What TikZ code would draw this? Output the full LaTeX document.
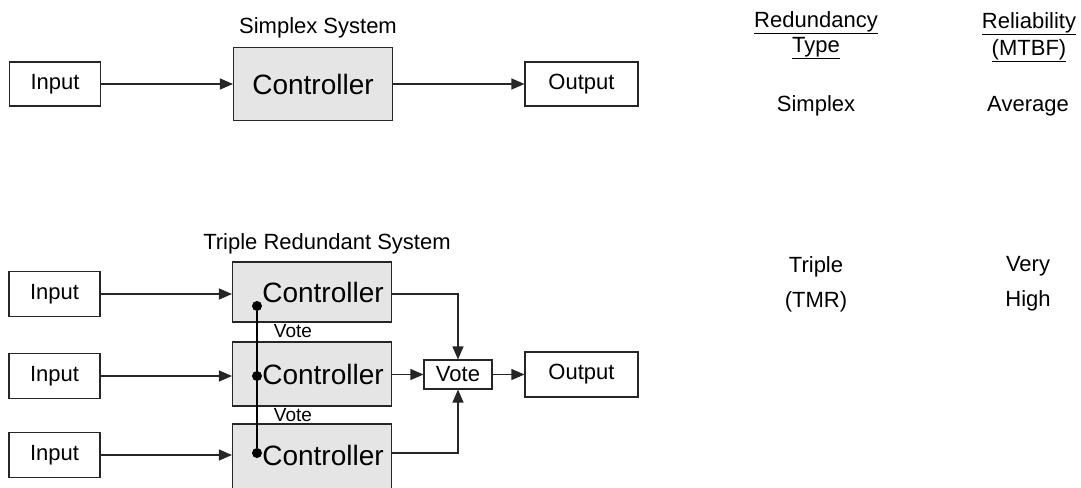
\documentclass[tikz,border=0pt]{standalone}
\usepackage{fontspec}
\setmainfont{Liberation Sans}
\usetikzlibrary{arrows.meta}
\begin{document}
\begin{tikzpicture}[x=1pt,y=-1pt,
  txt/.style={font=\fontsize{22}{26}\selectfont},
  box/.style={txt,draw=black!85,line width=1.1pt,inner sep=0pt},
  inbox/.style={box,minimum width=91pt,minimum height=45pt},
  ctl/.style={box,fill=black!10,minimum width=159pt,font=\fontsize{28}{32}\selectfont},
  arr/.style={line width=1.1pt,draw=black!85,-{Triangle[length=13pt,width=11pt]}},
  dot/.style={circle,fill=black,inner sep=0pt,minimum size=10pt}]
\clip (0,0) rectangle (1081,487);

% simplex system
\node[txt] (simtitle) at (318,28) {Simplex System};
\node[inbox,minimum height=44pt] (sin) at (55,84) {Input};
\node[ctl,minimum height=73pt] (sctl) at (313,84) {Controller};
\node[inbox,minimum width=113pt,minimum height=44pt] (sout) at (581.5,84) {Output};
\draw[arr] (sin) -- (sctl);
\draw[arr] (sctl) -- (sout);

% triple redundant system
\node[txt] (tmrtitle) at (327,244) {Triple Redundant System};
\node[inbox] (in1) at (54.5,294) {Input};
\node[inbox] (in2) at (54.5,376) {Input};
\node[inbox] (in3) at (54.5,455) {Input};

\node[ctl,minimum height=60pt,label={[font=\fontsize{28}{32}\selectfont,xshift=11pt]center:Controller}] (c1) at (312,292) {};
\node[ctl,minimum height=64pt,label={[font=\fontsize{28}{32}\selectfont,xshift=11pt]center:Controller}] (c2) at (312,374) {};
\node[ctl,minimum height=68pt,label={[font=\fontsize{28}{32}\selectfont,xshift=11pt,yshift=3pt]center:Controller}] (c3) at (312,458) {};

\node[box,minimum width=68pt,minimum height=29pt] (vote) at (458,374.5) {Vote};
\node[inbox,minimum width=113pt] (tout) at (581.5,374.5) {Output};

\draw[arr] (in1) -- (c1.west |- in1);
\draw[arr] (in2) -- (c2.west |- in2);
\draw[arr] (in3) -- (c3.west |- in3);
\draw[arr] ([yshift=-2pt]c1.east) -| (vote.north);
\draw[arr] (c2.east |- vote) -- (vote);
\draw[arr] ([yshift=5pt]c3.east) -| (vote.south);
\draw[arr] (vote) -- (tout);

% vote bus between the controllers
\node[dot] (d1) at (257,306) {};
\node[dot] (d2) at (257,376) {};
\node[dot] (d3) at (257,453) {};
\draw[line width=1.1pt] (d1) -- (d3);
\node[txt,font=\fontsize{19}{22}\selectfont] (v1) at (293,331) {Vote};
\node[txt,font=\fontsize{19}{22}\selectfont] (v2) at (293,415) {Vote};

% table on the right
\node[txt,align=center,font=\fontsize{22}{25}\selectfont] (hred) at (816,35) {\underline{Redundancy}\\\underline{Type}};
\node[txt,align=center,font=\fontsize{22}{27}\selectfont] (hrel) at (1029,37) {\underline{Reliability}\\\underline{(MTBF)}};
\node[txt] (rsim) at (816,106) {Simplex};
\node[txt] (lsim) at (1028,106) {Average};
\node[txt,align=center,font=\fontsize{22}{35}\selectfont] (rtmr) at (816,284) {Triple\\(TMR)};
\node[txt,align=center,font=\fontsize{22}{35}\selectfont] (ltmr) at (1028,284) {Very\\High};
\end{tikzpicture}
\end{document}
